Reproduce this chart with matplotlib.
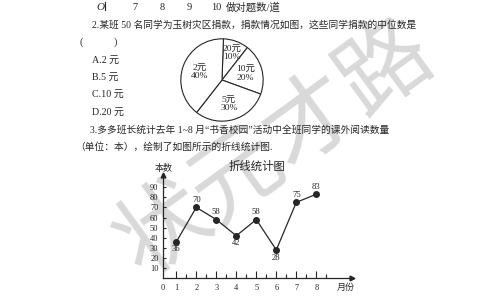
import matplotlib
matplotlib.use('Agg')
import matplotlib.pyplot as plt
from matplotlib.lines import Line2D
import numpy as np

W, H = 484, 300
DPI = 100

# ---------------- data ----------------
pie_labels = ['20元', '10元', '5元', '2元']
pie_pcts = [10, 20, 30, 40]
months = [1, 2, 3, 4, 5, 6, 7, 8]
books = [36, 70, 58, 42, 58, 28, 75, 83]
label_side = ['below', 'above', 'above', 'below', 'above', 'below', 'above', 'above']
yticks = [10, 20, 30, 40, 50, 60, 70, 80, 90]
minor_x = [1.5, 2.5, 3.5, 4.5, 5.5, 6.5, 7.5, 8.5]
prev_ticks = ['7', '8', '9', '10']
options = ['A.2 元', 'B.5 元', 'C.10 元', 'D.20 元']

plt.rcParams['font.family'] = ['Liberation Serif', 'Noto Sans CJK SC']
INK = '#262626'

fig = plt.figure(figsize=(W / DPI, H / DPI), dpi=DPI)
fig.patch.set_facecolor('white')


def T(x, y, s, size=7.2, ha='left', va='center', **kw):
    color = kw.pop('color', INK)
    return fig.text(x / W, 1 - y / H, s, fontsize=size, ha=ha, va=va, color=color, **kw)


# watermark
fig.text(275 / W, 1 - 150 / H, '状元才路', fontsize=66, rotation=36, ha='center', va='center',
         color='#d9d9d9', family=['Noto Sans CJK SC'], fontweight='medium', zorder=-5)

# ---------------- body text ----------------
T(100, 8, 'O', size=8, ha='center', style='italic')
fig.add_artist(Line2D([105 / W, 105 / W], [1 - 2 / H, 1 - 10 / H], color=INK, lw=0.8))
for x, s in zip([135, 162, 189, 216], prev_ticks):
    T(x, 8, s, size=7.5, ha='center')
T(226, 8, '做对题数/道', size=7.5)
T(92, 25, '2.某班 50 名同学为玉树灾区捐款，捐款情况如图，这些同学捐款的中位数是', size=7.0)
T(80, 42, '(', size=7.2)
T(114, 42, ')', size=7.2)
for y, s in zip([60, 77, 94, 112], options):
    T(92, y, s, size=7.2)
T(90, 130, '3.多多班长统计去年 1~8 月“书香校园”活动中全班同学的课外阅读数量', size=7.0)
T(75, 147, '（单位：本），绘制了如图所示的折线统计图.', size=7.0)

# ---------------- pie chart ----------------
axp = fig.add_axes([180 / W, 1 - 122 / H, 84 / W, 84 / H])
axp.set_facecolor('none')
wedges, _ = axp.pie(pie_pcts, startangle=88, counterclock=False, colors=['white'] * 4,
                    wedgeprops=dict(edgecolor=INK, linewidth=0.8))
axp.set_xlim(-1.02, 1.02)
axp.set_ylim(-1.02, 1.02)
axp.set_aspect('equal')
label_r = [0.7, 0.6, 0.6, 0.58]
for w, lab, p, r in zip(wedges, pie_labels, pie_pcts, label_r):
    ang = np.deg2rad((w.theta1 + w.theta2) / 2)
    axp.text(r * np.cos(ang), r * np.sin(ang), f'{lab}\n{p}%', ha='center', va='center',
             fontsize=6.8, linespacing=1.15, color=INK)

# ---------------- line chart ----------------
x0 = 0.32
ax = fig.add_axes([162.7 / W, 1 - 278.3 / H, 189.3 / W, 103.3 / H])
ax.set_facecolor('none')
ax.set_xlim(x0, x0 + 189.3 / 20)
ax.set_ylim(0, 102)
ax.plot(months, books, color=INK, lw=0.9, marker='o', ms=4, mfc=INK, mec=INK, clip_on=False)
for m, b, side in zip(months, books, label_side):
    off = 5.5 if side == 'above' else -5.5
    ax.annotate(str(b), (m, b), xytext=(0, off), textcoords='offset points', ha='center',
                va='center', fontsize=6.2, color=INK)

for s in ['top', 'right']:
    ax.spines[s].set_visible(False)
for s in ['left', 'bottom']:
    ax.spines[s].set_color(INK)
    ax.spines[s].set_linewidth(0.9)
ax.plot([1], [0], marker='>', ms=3.5, color=INK, transform=ax.transAxes, clip_on=False)
ax.plot([0], [1], marker='^', ms=3.5, color=INK, transform=ax.transAxes, clip_on=False)

ax.set_xticks([x0] + months, ['0'] + [str(m) for m in months])
ax.xaxis.get_major_ticks()[0].tick1line.set_visible(False)
ax.set_xticks(minor_x, minor=True)
ax.tick_params(axis='x', which='major', direction='in', length=5, width=0.8, colors=INK,
               labelsize=6, pad=4)
ax.tick_params(axis='x', which='minor', direction='in', length=3, width=0.8, colors=INK)
ax.set_yticks(yticks, [str(v) for v in yticks])
ax.tick_params(axis='y', which='major', direction='in', length=2.5, width=0.8, colors=INK,
               labelsize=6, pad=3)

T(164, 168, '本数', size=6.5, ha='center')
T(257, 166, '折线统计图', size=8.2, ha='center')
T(346, 288, '月份', size=6.5, ha='center')

fig.savefig('out.png', dpi=DPI, facecolor='white')
